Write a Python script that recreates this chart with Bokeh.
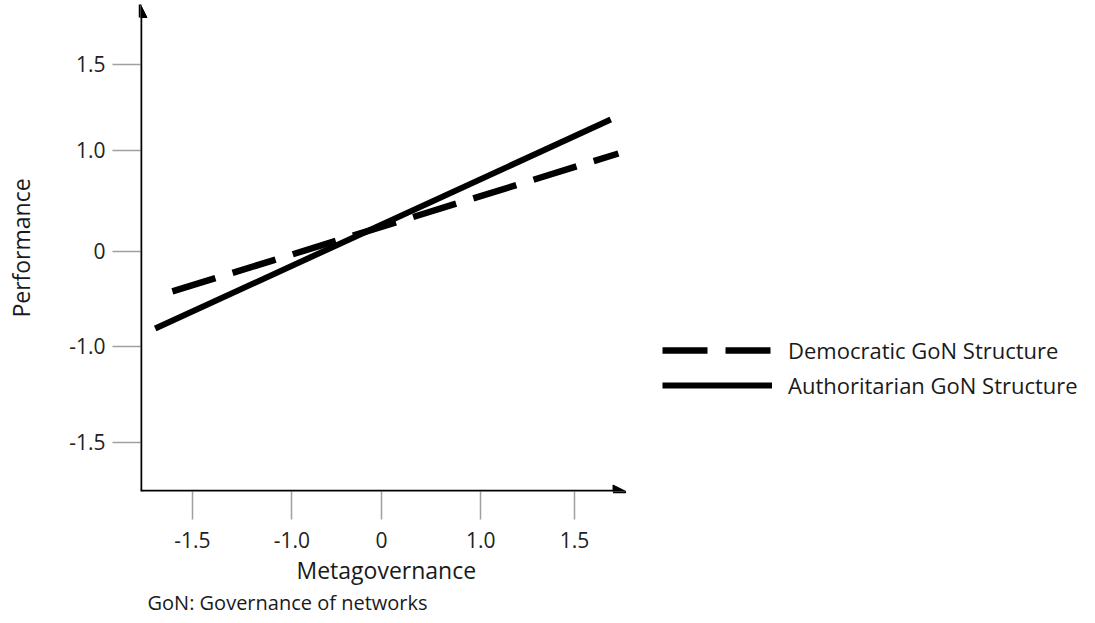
from bokeh.plotting import figure
from bokeh.models import Range1d, FixedTicker, Arrow, NormalHead, Title
from bokeh.embed import file_html
from bokeh.resources import INLINE

# ---- data (schematic tick units) ----
x_tick_pos = [-1.98, -0.94, 0.0, 1.04, 2.02]
x_tick_labels = ["-1.5", "-1.0", "0", "1.0", "1.5"]
y_tick_pos = [1.98, 1.07, 0.0, -1.005, -2.02]
y_tick_labels = ["1.5", "1.0", "0", "-1.0", "-1.5"]

metagov_dem = [-2.19, 2.48]
perf_dem = [-0.423, 1.037]
metagov_auth = [-2.37, 2.40]
perf_auth = [-0.815, 1.397]

series_names = ["Democratic GoN Structure", "Authoritarian GoN Structure"]
x_title = "Metagovernance"
y_title = "Performance"
note = "GoN: Governance of networks"

FONT = "Open Sans"
X0, X1 = -2.524, 7.392
Y0, Y1 = -2.540, 2.614
X_AXIS_END = 2.56

p = figure(width=1087, height=615, output_backend="svg", toolbar_location=None,
           x_range=Range1d(X0, X1), y_range=Range1d(Y0, Y1),
           min_border_left=140, min_border_right=0, min_border_top=4,
           min_border_bottom=124)
p.outline_line_color = None
p.grid.visible = False
p.background_fill_color = "white"
p.border_fill_color = "white"

p.line(metagov_dem, perf_dem, line_color="black", line_width=6.5,
       line_dash="45 18", legend_label=series_names[0])
p.line(metagov_auth, perf_auth, line_color="black", line_width=6,
       legend_label=series_names[1])

# axes
for ax in (p.xaxis[0], p.yaxis[0]):
    ax.axis_line_color = None
    ax.major_tick_line_color = "#a0a0a0"
    ax.major_tick_line_width = 1.5
    ax.minor_tick_line_color = None
    ax.major_tick_in = 0
    ax.major_label_text_font = FONT
    ax.major_label_text_font_size = "21px"
    ax.major_label_text_color = "#222222"
    ax.axis_label_text_font = FONT
    ax.axis_label_text_font_size = "23px"
    ax.axis_label_text_font_style = "normal"
    ax.axis_label_text_color = "#1a1a1a"

xa = p.xaxis[0]
xa.ticker = FixedTicker(ticks=x_tick_pos)
xa.major_label_overrides = {float(k): v for k, v in zip(x_tick_pos, x_tick_labels)}
xa.major_tick_out = 28
xa.major_label_standoff = 12

ya = p.yaxis[0]
ya.ticker = FixedTicker(ticks=y_tick_pos)
ya.major_label_overrides = {float(k): v for k, v in zip(y_tick_pos, y_tick_labels)}
ya.major_tick_out = 28
ya.major_label_standoff = 7
ya.major_label_orientation = "horizontal"
ya.axis_label = y_title
ya.axis_label_standoff = 29

# arrowed axis lines
head = dict(size=13, fill_color="black", line_color="black")
p.add_layout(Arrow(x_start=X0, y_start=Y0, x_end=X0, y_end=Y1,
                   line_color="black", line_width=3.5, end=NormalHead(**head)))
p.add_layout(Arrow(x_start=X0, y_start=Y0, x_end=X_AXIS_END, y_end=Y0,
                   line_color="black", line_width=3.5, end=NormalHead(**head)))

# legend
lg = p.legend[0]
lg.location = (522, 91)
lg.orientation = "vertical"
lg.padding = 0
lg.margin = 0
lg.spacing = 5
lg.glyph_width = 110
lg.glyph_height = 30
lg.label_height = 30
lg.label_standoff = 16
lg.label_text_font = FONT
lg.label_text_font_size = "22px"
lg.label_text_color = "#1a1a1a"
lg.border_line_color = None
lg.background_fill_alpha = 0

# x-axis title (under the drawn axis span) and note
p.add_layout(Title(text=x_title, align="left", text_font=FONT,
                   text_font_size="23px", text_font_style="normal",
                   text_color="#1a1a1a", offset=156, standoff=2), "below")
p.add_layout(Title(text=note, align="left", text_font=FONT,
                   text_font_size="20px", text_font_style="normal",
                   text_color="#1a1a1a", offset=7, standoff=0), "below")

open("out.html", "w").write(file_html(p, INLINE))
